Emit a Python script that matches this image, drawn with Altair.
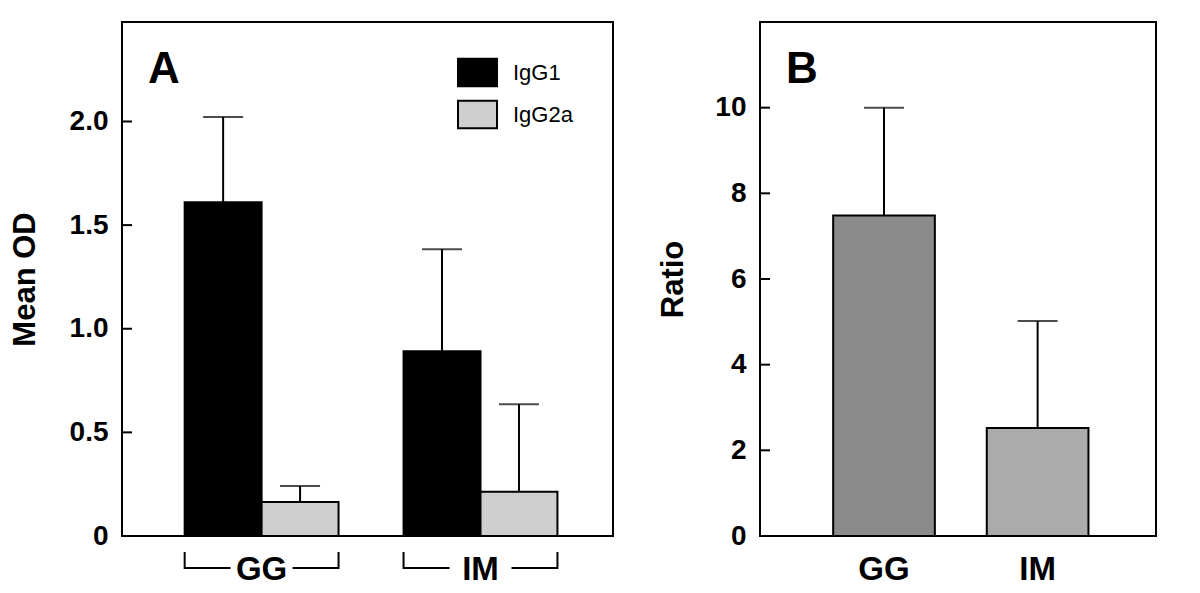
import altair as alt
import pandas as pd

# ---------------- data ----------------
groups = ["GG", "IM"]
isotypes = ["IgG1", "IgG2a"]
od_gg = [1.61, 0.164]
od_gg_err = [2.022, 0.241]
od_im = [0.892, 0.214]
od_im_err = [1.384, 0.636]

ratio_vals = [7.48, 2.52]
ratio_err = [10.0, 5.02]

ticks_a = [0.5, 1.0, 1.5, 2.0]
ticks_b = [2, 4, 6, 8, 10]
labels_a = [0, 0.5, 1.0, 1.5, 2.0]
labels_b = [0, 2, 4, 6, 8, 10]
panel_labels = ["A", "B"]

FONT = "Liberation Sans"
H = 514
WA = 491
WB = 396

dfa = pd.DataFrame({
    "group": [groups[0], groups[0], groups[1], groups[1]],
    "isotype": isotypes * 2,
    "od": od_gg + od_im,
    "err": od_gg_err + od_im_err,
})
dfb = pd.DataFrame({"group": groups, "ratio": ratio_vals, "err": ratio_err})
dfg = pd.DataFrame({"group": groups})
dfta = pd.DataFrame({"v": ticks_a})
dftb = pd.DataFrame({"v": ticks_b})


def panel_label(txt):
    return alt.Chart(pd.DataFrame({"lab": [txt]})).mark_text(
        font=FONT, fontSize=44, fontWeight="bold", color="black",
        align="left", baseline="alphabetic",
    ).encode(text="lab:N", x=alt.value(26), y=alt.value(61))


# ---------------- panel A ----------------
xa_scale = alt.Scale(domain=groups, paddingInner=0.297, paddingOuter=0.27, align=0.53)
off_scale = alt.Scale(domain=isotypes, paddingInner=0, paddingOuter=0)
ya_scale = alt.Scale(domain=[0, 2.48], nice=False, zero=True)

ya_axis = alt.Axis(
    values=labels_a,
    labelExpr="datum.value == 0 ? '0' : format(datum.value, '.1f')",
    ticks=False, domain=False, grid=False,
    labelFont=FONT, labelFontSize=28, labelFontWeight="bold", labelColor="black",
    labelPadding=14,
    title="Mean OD", titleFont=FONT, titleFontSize=31, titleFontWeight="bold",
    titleColor="black", titlePadding=28,
)
xa_axis = alt.Axis(
    title=None, ticks=False, domain=False, labelAngle=0,
    labelFont=FONT, labelFontSize=33, labelFontWeight="bold", labelColor="black",
    labelPadding=17, zindex=1,
)

xa = alt.X("group:N", scale=xa_scale, axis=xa_axis)
xoff = alt.XOffset("isotype:N", scale=off_scale)

bars_a = alt.Chart(dfa).mark_bar(stroke="black", strokeWidth=2).encode(
    x=xa,
    xOffset=xoff,
    y=alt.Y("od:Q", scale=ya_scale, axis=ya_axis),
    color=alt.Color(
        "isotype:N",
        scale=alt.Scale(domain=isotypes, range=["#000000", "#cecece"]),
        legend=alt.Legend(
            title=None, orient="none", legendX=335, legendY=30,
            symbolType="M-1,-0.7H1V0.7H-1Z", symbolSize=1521,
            symbolStrokeColor="black", symbolStrokeWidth=2,
            labelFont=FONT, labelFontSize=22, labelColor="black",
            labelOffset=15, rowPadding=3, padding=0,
        ),
    ),
)
err_a = alt.Chart(dfa).mark_rule(color="black", strokeWidth=2).encode(
    x=xa, xOffset=xoff,
    y=alt.Y("od:Q", scale=ya_scale, axis=ya_axis), y2="err:Q",
)
cap_a = alt.Chart(dfa).mark_tick(color="black", size=40, thickness=2).encode(
    x=xa, xOffset=xoff,
    y=alt.Y("err:Q", scale=ya_scale, axis=ya_axis),
)
ytick_a = alt.Chart(dfta).mark_rule(color="black", strokeWidth=2).encode(
    y=alt.Y("v:Q", scale=ya_scale, axis=ya_axis),
    x=alt.value(0), x2=alt.value(10),
)
br_line = alt.Chart(dfg).mark_bar(color="black").encode(
    x=xa, y=alt.value(H + 31), y2=alt.value(H + 33),
)
br_gap = alt.Chart(dfg).mark_bar(color="white", width=62).encode(
    x=xa, y=alt.value(H + 28), y2=alt.value(H + 36),
)
br_left = alt.Chart(dfg).mark_rule(color="black", strokeWidth=2).encode(
    x=alt.X("group:N", scale=xa_scale, axis=xa_axis, bandPosition=0),
    y=alt.value(H + 16), y2=alt.value(H + 33),
)
br_right = alt.Chart(dfg).mark_rule(color="black", strokeWidth=2).encode(
    x=alt.X("group:N", scale=xa_scale, axis=xa_axis, bandPosition=1),
    y=alt.value(H + 16), y2=alt.value(H + 33),
)

panel_a = alt.layer(
    bars_a, err_a, cap_a, ytick_a, br_line, br_gap, br_left, br_right,
    panel_label(panel_labels[0]),
).properties(width=WA, height=H)

# ---------------- panel B ----------------
xb_scale = alt.Scale(domain=groups, paddingInner=0.338, paddingOuter=0.458, align=0.52)
yb_scale = alt.Scale(domain=[0, 12], nice=False, zero=True)
yb_axis = alt.Axis(
    values=labels_b, format="d",
    ticks=False, domain=False, grid=False,
    labelFont=FONT, labelFontSize=28, labelFontWeight="bold", labelColor="black",
    labelPadding=14,
    title="Ratio", titleFont=FONT, titleFontSize=31, titleFontWeight="bold",
    titleColor="black", titlePadding=25,
)
xb_axis = alt.Axis(
    title=None, ticks=False, domain=False, labelAngle=0,
    labelFont=FONT, labelFontSize=33, labelFontWeight="bold", labelColor="black",
    labelPadding=17,
)
xb = alt.X("group:N", scale=xb_scale, axis=xb_axis)

bars_b = alt.Chart(dfb).mark_bar(stroke="black", strokeWidth=2).encode(
    x=xb,
    y=alt.Y("ratio:Q", scale=yb_scale, axis=yb_axis),
    color=alt.Color("group:N", scale=alt.Scale(domain=groups, range=["#8a8a8a", "#ababab"]),
                    legend=None),
)
err_b = alt.Chart(dfb).mark_rule(color="black", strokeWidth=2).encode(
    x=xb, y=alt.Y("ratio:Q", scale=yb_scale, axis=yb_axis), y2="err:Q",
)
cap_b = alt.Chart(dfb).mark_tick(color="black", size=40, thickness=2).encode(
    x=xb, y=alt.Y("err:Q", scale=yb_scale, axis=yb_axis),
)
ytick_b = alt.Chart(dftb).mark_rule(color="black", strokeWidth=2).encode(
    y=alt.Y("v:Q", scale=yb_scale, axis=yb_axis),
    x=alt.value(0), x2=alt.value(10),
)

panel_b = alt.layer(
    bars_b, err_b, cap_b, ytick_b, panel_label(panel_labels[1])
).properties(width=WB, height=H)

chart = alt.hconcat(panel_a, panel_b, spacing=42).resolve_scale(
    color="independent", x="independent", y="independent"
).properties(
    padding={"left": 0, "top": 13, "right": 5, "bottom": 5},
    background="white",
).configure_view(stroke="black", strokeWidth=2)

chart.save("out.html", embed_options={"renderer": "svg", "actions": False})
